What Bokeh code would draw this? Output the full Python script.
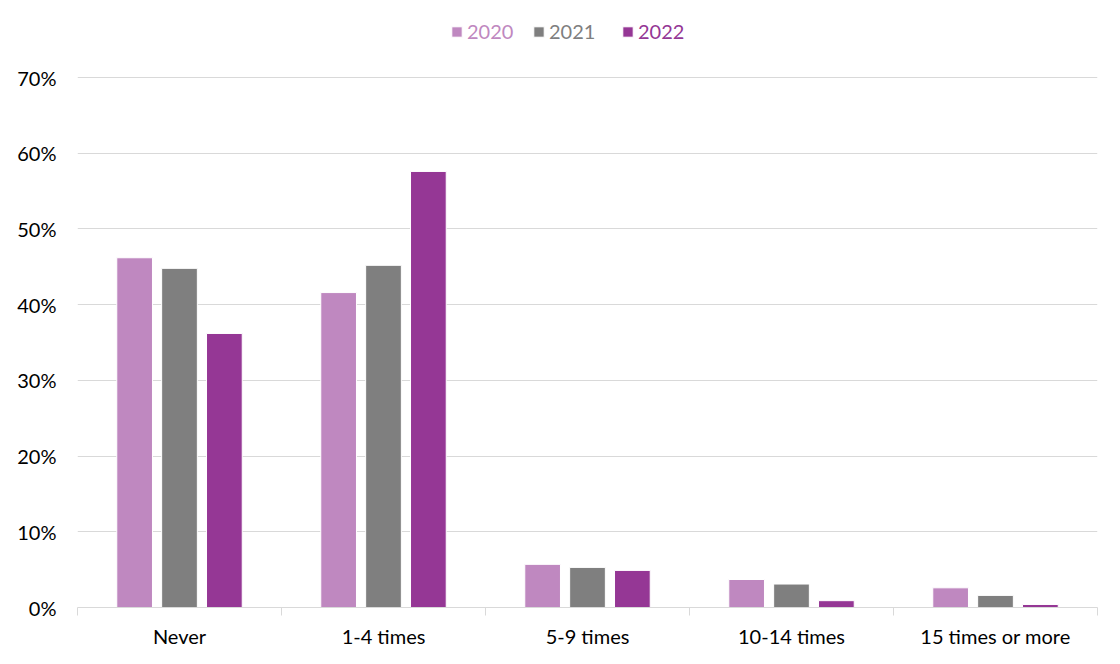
from bokeh.plotting import figure
from bokeh.models import (ColumnDataSource, FixedTicker, Legend, LegendItem,
                          PrintfTickFormatter, Range1d)
from bokeh.embed import file_html
from bokeh.resources import INLINE

# values (percent)
categories = ["Never", "1-4 times", "5-9 times", "10-14 times", "15 times or more"]
years = ["2020", "2021", "2022"]
values_2020 = [46.2, 41.6, 5.7, 3.7, 2.6]
values_2021 = [44.8, 45.2, 5.3, 3.1, 1.6]
values_2022 = [36.2, 57.6, 4.9, 0.9, 0.4]
y_ticks = [0, 10, 20, 30, 40, 50, 60, 70]

colors = ["#bf88c0", "#7f7f7f", "#953795"]
FONT = "Lato"

# the frame runs up to the legend row so the legend is not clipped;
# gridlines stop at 70% because the ticker does
p = figure(width=1112, height=656, output_backend="svg", toolbar_location=None,
           x_range=Range1d(0, len(categories)), y_range=Range1d(0, 78.2),
           min_border_left=77, min_border_right=15, min_border_top=15,
           min_border_bottom=49)
p.outline_line_color = None
p.background_fill_color = "white"

series = [values_2020, values_2021, values_2022]
offsets = [-0.22, 0.0, 0.22]
renderers = []
for year, vals, off, col in zip(years, series, offsets, colors):
    src = ColumnDataSource(dict(
        x=[i + 0.5 + off for i in range(len(categories))],
        top=vals,
        cat=categories,
    ))
    r = p.vbar(x="x", top="top", width=0.175, source=src,
               fill_color=col, line_color="white", line_width=1)
    renderers.append(r)

# x axis: labels at category centres, boundary ticks between categories
p.xaxis.ticker = FixedTicker(ticks=[i + 0.5 for i in range(len(categories))],
                             minor_ticks=list(range(len(categories) + 1)))
p.xaxis.major_label_overrides = {i + 0.5: c for i, c in enumerate(categories)}
p.xaxis.major_tick_line_color = None
p.xaxis.minor_tick_in = 0
p.xaxis.minor_tick_out = 8
p.xaxis.minor_tick_line_color = "#d9d9d9"
p.xaxis.axis_line_color = "#d9d9d9"
p.xaxis.axis_line_width = 1
p.xaxis.major_label_text_font = FONT
p.xaxis.major_label_text_font_size = "20px"
p.xaxis.major_label_text_color = "#000000"
p.xaxis.major_label_standoff = 8
p.xgrid.grid_line_color = None

p.yaxis.ticker = FixedTicker(ticks=y_ticks)
p.yaxis.formatter = PrintfTickFormatter(format="%d%%")
p.yaxis.axis_line_color = None
p.yaxis.major_tick_line_color = None
p.yaxis.minor_tick_line_color = None
p.yaxis.major_label_text_font = FONT
p.yaxis.major_label_text_font_size = "20px"
p.yaxis.major_label_text_color = "#000000"
p.yaxis.major_label_standoff = 15
p.ygrid.grid_line_color = "#d9d9d9"
p.ygrid.grid_line_width = 1

# one legend per year so each label can take its series colour
legend_x = [373, 455, 544]
for year, r, col, lx in zip(years, renderers, colors, legend_x):
    leg = Legend(items=[LegendItem(label=year, renderers=[r])],
                 location=(lx, 564), orientation="horizontal",
                 label_text_font=FONT, label_text_font_size="20px",
                 label_text_color=col, glyph_width=13, glyph_height=13,
                 label_standoff=4, padding=0, margin=0, spacing=0,
                 border_line_color=None, background_fill_alpha=0)
    p.add_layout(leg, "center")

open("out.html", "w").write(file_html(p, INLINE))
